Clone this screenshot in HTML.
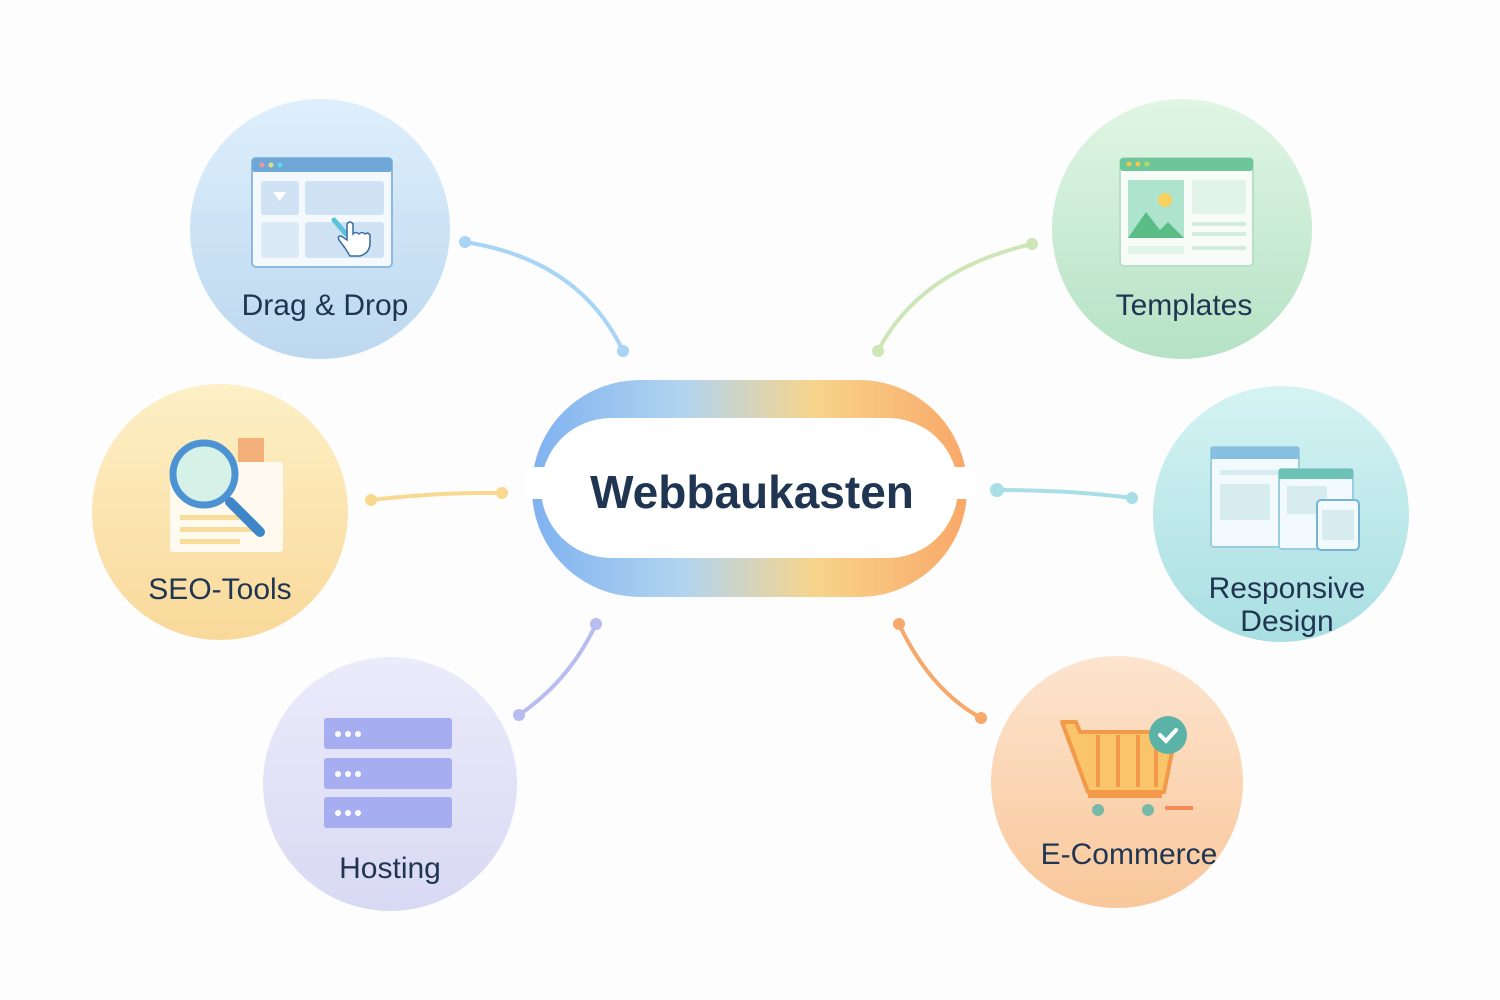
<!DOCTYPE html>
<html><head><meta charset="utf-8"><style>body{margin:0;background:#fdfdfd}svg{display:block}text{font-family:"Liberation Sans","DejaVu Sans",sans-serif;fill:#1f3552}</style></head><body>
<svg width="1500" height="1000" viewBox="0 0 1500 1000">
<defs>
<linearGradient id="pg" x1="0" x2="1"><stop offset="0" stop-color="#7fb2f0"/><stop offset="0.35" stop-color="#b2d4ef"/><stop offset="0.65" stop-color="#f7d48c"/><stop offset="1" stop-color="#f9a868"/></linearGradient>
<linearGradient id="g1" x1="0" y1="0" x2="0" y2="1"><stop offset="0" stop-color="#deeffc"/><stop offset="1" stop-color="#bcd8ef"/></linearGradient>
<linearGradient id="g2" x1="0" y1="0" x2="0" y2="1"><stop offset="0" stop-color="#e0f6e4"/><stop offset="1" stop-color="#b5e2c5"/></linearGradient>
<linearGradient id="g3" x1="0" y1="0" x2="0" y2="1"><stop offset="0" stop-color="#fdf0c6"/><stop offset="1" stop-color="#f9d99a"/></linearGradient>
<linearGradient id="g4" x1="0" y1="0" x2="0" y2="1"><stop offset="0" stop-color="#d5f3f3"/><stop offset="1" stop-color="#a9dfe2"/></linearGradient>
<linearGradient id="g5" x1="0" y1="0" x2="0" y2="1"><stop offset="0" stop-color="#ecebfb"/><stop offset="1" stop-color="#d8d9f3"/></linearGradient>
<linearGradient id="g6" x1="0" y1="0" x2="0" y2="1"><stop offset="0" stop-color="#fde4cf"/><stop offset="1" stop-color="#f9c79a"/></linearGradient>
</defs>
<g fill="none" stroke-width="4" stroke-linecap="round">
<path d="M465 242 Q580 260 623 351" stroke="#a8d4f5"/>
<path d="M1032 244 Q920 270 878 351" stroke="#cde6b8"/>
<path d="M371 500 Q440 492 502 493" stroke="#f9d890"/>
<path d="M997 490 Q1070 490 1132 498" stroke="#a8dfe6"/>
<path d="M596 624 Q570 680 519 715" stroke="#b8bcef"/>
<path d="M899 624 Q930 690 981 718" stroke="#f6a96b"/>
</g>
<g>
<circle cx="465" cy="242" r="6" fill="#a8d4f5"/><circle cx="623" cy="351" r="6" fill="#a8d4f5"/>
<circle cx="1032" cy="244" r="6" fill="#cde6b8"/><circle cx="878" cy="351" r="6" fill="#cde6b8"/>
<circle cx="371" cy="500" r="6" fill="#f9d890"/><circle cx="502" cy="493" r="6" fill="#f9d890"/>
<circle cx="997" cy="490" r="7" fill="#a8dfe6"/><circle cx="1132" cy="498" r="6" fill="#a8dfe6"/>
<circle cx="596" cy="624" r="6" fill="#b8bcef"/><circle cx="519" cy="715" r="6" fill="#b8bcef"/>
<circle cx="899" cy="624" r="6" fill="#f6a96b"/><circle cx="981" cy="718" r="6" fill="#f6a96b"/>
</g>
<rect x="532" y="380" width="435" height="217" rx="108" fill="url(#pg)"/>
<rect x="541" y="418" width="417" height="140" rx="70" fill="#fff"/>
<rect x="525" y="467" width="450" height="32" fill="#fff"/>
<text x="752" y="508" text-anchor="middle" font-size="46" font-weight="bold" fill="#1d3656">Webbaukasten</text>
<circle cx="320" cy="229" r="130" fill="url(#g1)"/>
<circle cx="1182" cy="229" r="130" fill="url(#g2)"/>
<circle cx="220" cy="512" r="128" fill="url(#g3)"/>
<circle cx="1281" cy="514" r="128" fill="url(#g4)"/>
<circle cx="390" cy="784" r="127" fill="url(#g5)"/>
<circle cx="1117" cy="782" r="126" fill="url(#g6)"/>
<rect x="252" y="158" width="140" height="109" rx="4" fill="#f4f9fe" stroke="#8db9de" stroke-width="2"/>
<rect x="252" y="158" width="140" height="14" rx="3" fill="#6fa7d6"/>
<circle cx="262" cy="165" r="2.5" fill="#e79ba6"/><circle cx="271" cy="165" r="2.5" fill="#d7e37a"/><circle cx="280" cy="165" r="2.5" fill="#5fd6ef"/>
<rect x="261" y="181" width="38" height="34" rx="3" fill="#cfe3f4"/><rect x="305" y="181" width="79" height="34" rx="3" fill="#cfe3f4"/>
<rect x="261" y="222" width="38" height="36" rx="3" fill="#dceaf6"/><rect x="305" y="222" width="79" height="36" rx="3" fill="#cfe3f4"/>
<path d="M273 192 h13 l-6.5 9z" fill="#fff"/>
<path d="M334 220 l12 14" stroke="#5cc3df" stroke-width="5" stroke-linecap="round"/>
<path d="M345 248 l-6 -8 q-2-4 2-4 l6 4 v-16 q3-4 6 0 v10 q3-3 6 0 q3-3 6 0 q3-2 5 1 v8 q0 10-10 13 h-10z" fill="#fff" stroke="#3a6d98" stroke-width="1.5"/>
<text x="325" y="315" text-anchor="middle" font-size="30">Drag &amp; Drop</text>
<rect x="1120" y="158" width="133" height="108" rx="4" fill="#f8fcf9" stroke="#b9e0c6" stroke-width="2"/>
<rect x="1120" y="158" width="133" height="13" rx="3" fill="#6cc69a"/>
<circle cx="1129" cy="164" r="2.5" fill="#f2c84b"/><circle cx="1138" cy="164" r="2.5" fill="#f2c84b"/><circle cx="1147" cy="164" r="2.5" fill="#b4d86a"/>
<rect x="1128" y="180" width="56" height="58" fill="#aee4ce"/>
<circle cx="1165" cy="200" r="7" fill="#f7cf5e"/>
<path d="M1128 238 l18-26 14 18 8-8 16 16z" fill="#5bbd86"/>
<rect x="1192" y="180" width="54" height="34" rx="2" fill="#e2f4ea"/>
<rect x="1192" y="222" width="54" height="4" fill="#d4ede0"/><rect x="1192" y="232" width="54" height="4" fill="#d4ede0"/><rect x="1192" y="246" width="54" height="4" fill="#d4ede0"/><rect x="1128" y="246" width="56" height="8" fill="#e2f4ea"/>
<text x="1184" y="315" text-anchor="middle" font-size="30">Templates</text>
<rect x="238" y="438" width="26" height="36" fill="#f4b07a"/>
<rect x="170" y="462" width="113" height="90" rx="3" fill="#fffaf0"/>
<rect x="180" y="515" width="60" height="5" fill="#f7dc9a"/><rect x="180" y="527" width="80" height="5" fill="#f7dc9a"/><rect x="180" y="539" width="60" height="5" fill="#f7dc9a"/>
<path d="M230 502 l30 30" stroke="#3f86c8" stroke-width="10" stroke-linecap="round"/>
<circle cx="204" cy="474" r="31" fill="#d6f2e8" stroke="#4d93d3" stroke-width="7"/>
<text x="220" y="599" text-anchor="middle" font-size="30">SEO-Tools</text>
<rect x="1211" y="447" width="88" height="100" rx="3" fill="#f3fafd" stroke="#9bcde0" stroke-width="2"/>
<rect x="1211" y="447" width="88" height="12" fill="#86bfe0"/>
<rect x="1220" y="484" width="50" height="36" fill="#d6ecef"/><rect x="1220" y="470" width="70" height="5" fill="#d6ecef"/>
<rect x="1279" y="469" width="74" height="80" rx="3" fill="#f3fafd" stroke="#9bcde0" stroke-width="2"/>
<rect x="1279" y="469" width="74" height="10" fill="#6cc2b5"/>
<rect x="1287" y="486" width="40" height="28" fill="#d6ecef"/>
<rect x="1317" y="500" width="42" height="50" rx="4" fill="#f3fafd" stroke="#74b4d6" stroke-width="2"/>
<rect x="1322" y="510" width="32" height="30" fill="#d6ecef"/>
<text x="1287" y="598" text-anchor="middle" font-size="30">Responsive</text>
<text x="1287" y="631" text-anchor="middle" font-size="30">Design</text>
<g fill="#a6adf0"><rect x="324" y="718" width="128" height="31" rx="3"/><rect x="324" y="758" width="128" height="31" rx="3"/><rect x="324" y="797" width="128" height="31" rx="3"/></g>
<g fill="#fff"><circle cx="338" cy="734" r="3"/><circle cx="348" cy="734" r="3"/><circle cx="358" cy="734" r="3"/><circle cx="338" cy="774" r="3"/><circle cx="348" cy="774" r="3"/><circle cx="358" cy="774" r="3"/><circle cx="338" cy="813" r="3"/><circle cx="348" cy="813" r="3"/><circle cx="358" cy="813" r="3"/></g>
<text x="390" y="878" text-anchor="middle" font-size="30">Hosting</text>
<path d="M1062 722 h14 l4 10 h96 l-12 60 h-76z" fill="#f9c46a" stroke="#f2994a" stroke-width="4" stroke-linejoin="round"/>
<g stroke="#f2994a" stroke-width="4"><path d="M1098 735 v52"/><path d="M1118 735 v52"/><path d="M1138 735 v52"/><path d="M1156 735 v52"/></g>
<path d="M1088 796 h74" stroke="#f2994a" stroke-width="4"/>
<circle cx="1098" cy="810" r="6" fill="#78b9a8"/><circle cx="1148" cy="810" r="6" fill="#78b9a8"/>
<rect x="1165" y="806" width="28" height="4" fill="#f28a5a"/>
<circle cx="1168" cy="735" r="19" fill="#5bb3a7"/>
<path d="M1160 735 l6 6 10-11" fill="none" stroke="#fff" stroke-width="4" stroke-linecap="round"/>
<text x="1129" y="864" text-anchor="middle" font-size="30">E-Commerce</text>
</svg>
</body></html>
